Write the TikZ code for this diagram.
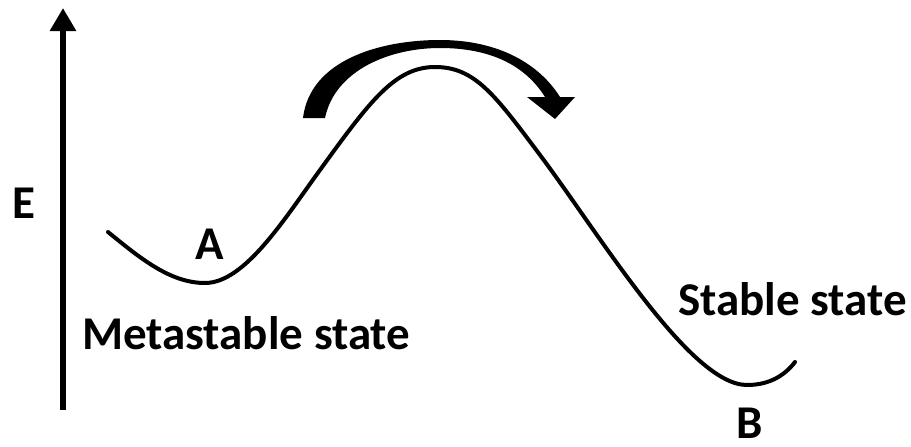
\documentclass[tikz,border=0pt]{standalone}
\usepackage{fontspec}
\setmainfont{Carlito}
\usepackage{tikz}
\usetikzlibrary{arrows.meta, positioning, calc}

\begin{document}
\begin{tikzpicture}[
  x=1pt, y=-1pt,
  label/.style={font=\fontsize{47}{56}\selectfont\bfseries, inner sep=0pt},
  curve/.style={line width=4pt, line cap=round},
  axis/.style={line width=6pt, -{Triangle[length=23pt, width=25pt]}}
]
  \useasboundingbox (0,0) rectangle (911,447);

  % energy axis
  \coordinate (axisbot) at (63,410);
  \coordinate (axistop) at (63,8);
  \draw[axis] (axisbot) -- (axistop);
  \node[label] (elabel) at (24,203) {E};

  % energy landscape
  \draw[curve] (108,232) .. controls (140,258) and (170,283) .. (205,283)
    .. controls (245,283) and (285,218) .. (320,170)
    .. controls (370,101) and (395,67) .. (435,67)
    .. controls (475,67) and (495,95) .. (540,155)
    .. controls (600,235) and (690,385) .. (747,385)
    .. controls (770,385) and (785,375) .. (795,362);

  % hop over the barrier
  \fill (303,118) .. controls (310,60) and (380,40) .. (440,40)
    .. controls (500,40) and (540,65) .. (560,97)
    -- (575,97) -- (555,119) -- (527,97) -- (545,97)
    .. controls (525,65) and (490,48) .. (440,48)
    .. controls (390,48) and (335,70) .. (325,118) -- cycle;

  \node[label] (mina) at (210,244) {A};
  \node[label] (minb) at (750,423) {B};
  \node[label, anchor=base west] (meta) at (82,349) {Metastable state};
  \node[label, anchor=base west] (stable) at (678,315) {Stable state};
\end{tikzpicture}
\end{document}
